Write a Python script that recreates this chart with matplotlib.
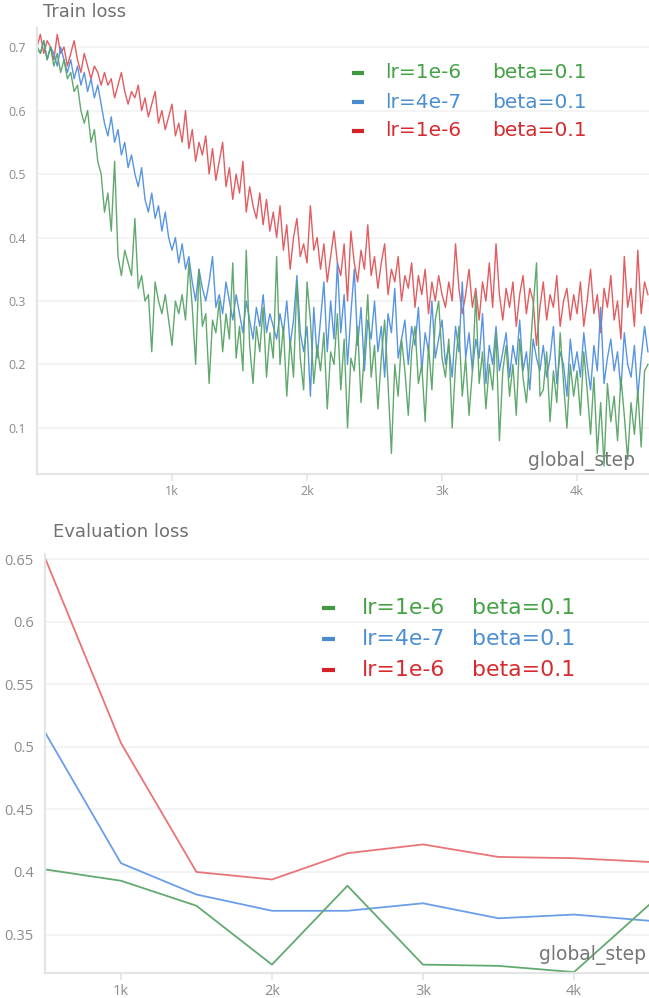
import numpy as np
import matplotlib
matplotlib.use("Agg")
import matplotlib.pyplot as plt
from matplotlib.lines import Line2D

plt.rcParams['font.family'] = ['Open Sans', 'DejaVu Sans']

# ---------------- data ----------------
train_steps = np.arange(0, 4526, 25)

train_green = [
    0.70, 0.69, 0.71, 0.68, 0.70, 0.67, 0.69, 0.66, 0.68, 0.65,
    0.66, 0.63, 0.64, 0.60, 0.58, 0.60, 0.55, 0.57, 0.52, 0.50,
    0.44, 0.47, 0.41, 0.52, 0.37, 0.34, 0.38, 0.36, 0.34, 0.43,
    0.32, 0.34, 0.30, 0.31, 0.22, 0.33, 0.30, 0.28, 0.31, 0.27,
    0.23, 0.30, 0.28, 0.31, 0.27, 0.36, 0.29, 0.20, 0.35, 0.26,
    0.28, 0.17, 0.27, 0.25, 0.30, 0.22, 0.28, 0.24, 0.36, 0.21,
    0.26, 0.19, 0.38, 0.23, 0.17, 0.26, 0.22, 0.29, 0.18, 0.25,
    0.21, 0.37, 0.20, 0.26, 0.15, 0.24, 0.18, 0.33, 0.21, 0.16,
    0.33, 0.27, 0.17, 0.23, 0.19, 0.25, 0.13, 0.22, 0.20, 0.28,
    0.16, 0.24, 0.10, 0.21, 0.19, 0.26, 0.14, 0.22, 0.31, 0.18,
    0.23, 0.13, 0.21, 0.27, 0.17, 0.06, 0.20, 0.15, 0.24, 0.19,
    0.12, 0.22, 0.26, 0.17, 0.20, 0.11, 0.23, 0.16, 0.27, 0.30,
    0.21, 0.18, 0.24, 0.10, 0.20, 0.26, 0.15, 0.21, 0.12, 0.19,
    0.31, 0.17, 0.22, 0.13, 0.20, 0.16, 0.25, 0.08, 0.19, 0.23,
    0.15, 0.20, 0.12, 0.24, 0.18, 0.14, 0.21, 0.29, 0.36, 0.15,
    0.16, 0.22, 0.11, 0.19, 0.14, 0.25, 0.17, 0.10, 0.20, 0.15,
    0.19, 0.12, 0.22, 0.16, 0.09, 0.18, 0.06, 0.14, 0.04, 0.17,
    0.11, 0.15, 0.08, 0.18, 0.12, 0.05, 0.14, 0.09, 0.16, 0.07, 0.19, 0.20,
]

train_blue = [
    0.70, 0.69, 0.71, 0.68, 0.70, 0.69, 0.67, 0.70, 0.68, 0.66,
    0.68, 0.65, 0.67, 0.64, 0.66, 0.63, 0.65, 0.62, 0.64, 0.61,
    0.58, 0.56, 0.59, 0.55, 0.57, 0.53, 0.55, 0.51, 0.53, 0.50,
    0.48, 0.51, 0.46, 0.44, 0.47, 0.43, 0.45, 0.41, 0.44, 0.40,
    0.38, 0.40, 0.36, 0.39, 0.35, 0.37, 0.33, 0.30, 0.35, 0.32,
    0.30, 0.33, 0.37, 0.29, 0.31, 0.28, 0.33, 0.30, 0.27, 0.31,
    0.28, 0.25, 0.30, 0.27, 0.24, 0.29, 0.26, 0.31, 0.25, 0.28,
    0.26, 0.24, 0.28, 0.25, 0.30, 0.23, 0.27, 0.34, 0.25, 0.22,
    0.26, 0.15, 0.29, 0.21, 0.27, 0.33, 0.22, 0.30, 0.24, 0.36,
    0.25, 0.31, 0.20, 0.28, 0.35, 0.23, 0.29, 0.19, 0.27, 0.24,
    0.30, 0.22, 0.26, 0.18, 0.28, 0.25, 0.32, 0.21, 0.24, 0.27,
    0.20, 0.26, 0.23, 0.29, 0.19, 0.25, 0.22, 0.30, 0.21, 0.24,
    0.27, 0.20, 0.23, 0.18, 0.26, 0.22, 0.33, 0.21, 0.25, 0.19,
    0.24, 0.21, 0.28, 0.17, 0.23, 0.20, 0.26, 0.19, 0.22, 0.25,
    0.18, 0.23, 0.20, 0.27, 0.19, 0.22, 0.16, 0.24, 0.21, 0.19,
    0.23, 0.18, 0.21, 0.26, 0.17, 0.22, 0.20, 0.15, 0.24, 0.19,
    0.22, 0.18, 0.25, 0.20, 0.16, 0.23, 0.19, 0.29, 0.17, 0.21,
    0.24, 0.19, 0.22, 0.16, 0.25, 0.20, 0.18, 0.23, 0.15, 0.21, 0.26, 0.22,
]

train_red = [
    0.70, 0.72, 0.69, 0.71, 0.70, 0.68, 0.72, 0.69, 0.70, 0.67,
    0.69, 0.71, 0.68, 0.66, 0.69, 0.67, 0.65, 0.67, 0.66, 0.64,
    0.66, 0.64, 0.65, 0.62, 0.64, 0.66, 0.63, 0.61, 0.63, 0.62,
    0.64, 0.60, 0.62, 0.59, 0.61, 0.63, 0.58, 0.60, 0.57, 0.59,
    0.61, 0.56, 0.58, 0.55, 0.60, 0.54, 0.57, 0.52, 0.55, 0.53,
    0.56, 0.50, 0.54, 0.49, 0.52, 0.55, 0.48, 0.51, 0.46, 0.50,
    0.47, 0.52, 0.44, 0.48, 0.45, 0.43, 0.47, 0.42, 0.46, 0.41,
    0.44, 0.40, 0.45, 0.38, 0.42, 0.35, 0.40, 0.43, 0.37, 0.39,
    0.36, 0.45, 0.38, 0.40, 0.35, 0.39, 0.33, 0.37, 0.41, 0.36,
    0.34, 0.39, 0.30, 0.41, 0.36, 0.33, 0.38, 0.35, 0.42, 0.34,
    0.37, 0.32, 0.36, 0.39, 0.31, 0.35, 0.33, 0.37, 0.30, 0.34,
    0.32, 0.36, 0.29, 0.34, 0.31, 0.35, 0.28, 0.33, 0.30, 0.34,
    0.31, 0.29, 0.33, 0.30, 0.39, 0.32, 0.28, 0.31, 0.35, 0.29,
    0.32, 0.27, 0.33, 0.30, 0.36, 0.29, 0.39, 0.31, 0.27, 0.32,
    0.29, 0.33, 0.26, 0.31, 0.34, 0.28, 0.32, 0.30, 0.23, 0.29,
    0.33, 0.27, 0.31, 0.29, 0.34, 0.26, 0.30, 0.32, 0.27, 0.31,
    0.28, 0.33, 0.26, 0.30, 0.35, 0.28, 0.31, 0.25, 0.32, 0.29,
    0.34, 0.27, 0.30, 0.24, 0.37, 0.29, 0.32, 0.26, 0.38, 0.28, 0.33, 0.31,
]

eval_steps = [500, 1000, 1500, 2000, 2500, 3000, 3500, 4000, 4500]
eval_green = [0.402, 0.393, 0.373, 0.326, 0.389, 0.326, 0.325, 0.320, 0.374]
eval_blue = [0.511, 0.407, 0.382, 0.369, 0.369, 0.375, 0.363, 0.366, 0.361]
eval_red = [0.650, 0.503, 0.400, 0.394, 0.415, 0.422, 0.412, 0.411, 0.408]

series_lr = ["lr=1e-6", "lr=4e-7", "lr=1e-6"]
series_beta = ["beta=0.1", "beta=0.1", "beta=0.1"]

x_ticks = [1000, 2000, 3000, 4000]
x_ticklabels = ["1k", "2k", "3k", "4k"]
train_yticks = [0.1, 0.2, 0.3, 0.4, 0.5, 0.6, 0.7]
train_yticklabels = ["0.1", "0.2", "0.3", "0.4", "0.5", "0.6", "0.7"]
eval_yticks = [0.35, 0.4, 0.45, 0.5, 0.55, 0.6, 0.65]
eval_yticklabels = ["0.35", "0.4", "0.45", "0.5", "0.55", "0.6", "0.65"]

# ---------------- style ----------------
W, H = 649, 998
line_colors = ["#58a466", "#4f8fe0", "#e05458"]
eval_colors = ["#62aa70", "#6a9ee8", "#e87478"]
text_colors = ["#44a244", "#4b8fd2", "#d62a2e"]
dash_colors = ["#3f9a3f", "#4a8bd0", "#d42226"]
tick_color = "#8c8c8c"
spine_color = "#e4e4e4"
grid_color = "#f2f2f2"
wide_font = ['DejaVu Sans']

fig = plt.figure(figsize=(W / 100, H / 100), dpi=100)
fig.patch.set_facecolor("white")


def fig_box(l, t, r, b):
    return [l / W, 1 - b / H, (r - l) / W, (b - t) / H]


ax1 = fig.add_axes(fig_box(37, 28, 649, 474))
ax2 = fig.add_axes(fig_box(45, 554, 649, 973))


def style_axes(ax, yticks, yticklabels, tick_fs):
    for s in ["top", "right"]:
        ax.spines[s].set_visible(False)
    for s in ["left", "bottom"]:
        ax.spines[s].set_color(spine_color)
        ax.spines[s].set_linewidth(1.6)
    ax.set_yticks(yticks)
    ax.set_yticklabels(yticklabels)
    ax.set_xticks(x_ticks)
    ax.set_xticklabels(x_ticklabels)
    ax.tick_params(axis="y", length=0, pad=8, colors=tick_color, labelsize=tick_fs)
    ax.tick_params(axis="x", length=5, width=1.2, pad=3,
                   colors=tick_color, labelsize=tick_fs)
    ax.tick_params(axis="x", color=spine_color)
    ax.grid(axis="y", color=grid_color, linewidth=1.2)
    ax.set_axisbelow(True)


# Train loss panel
for vals, c in [(train_red, line_colors[2]), (train_blue, line_colors[1]), (train_green, line_colors[0])]:
    ax1.plot(train_steps, vals, color=c, linewidth=1.0, alpha=0.95)
ax1.set_xlim(0, 4533)
ax1.set_ylim(0.0275, 0.730)
style_axes(ax1, train_yticks, train_yticklabels, 9)

# Evaluation loss panel
for vals, c in [(eval_red, eval_colors[2]), (eval_blue, eval_colors[1]), (eval_green, eval_colors[0])]:
    ax2.plot(eval_steps, vals, color=c, linewidth=1.3)
ax2.set_xlim(497, 4497)
ax2.set_ylim(0.3193, 0.654)
style_axes(ax2, eval_yticks, eval_yticklabels, 10.5)

# axis name labels inside the plots
fig.text(635 / W, 1 - 461 / H, "global_step", fontsize=13.5, color="#777777", ha="right", va="center",
         family=wide_font)
fig.text(646 / W, 1 - 955 / H, "global_step", fontsize=13.5, color="#777777", ha="right", va="center",
         family=wide_font)

# titles
fig.text(43 / W, 1 - 12 / H, "Train loss", fontsize=12.9, color="#707070", va="center", ha="left",
         family=wide_font)
fig.text(53 / W, 1 - 532 / H, "Evaluation loss", fontsize=13, color="#707070", va="center", ha="left",
         family=wide_font)


# legends
def draw_legend(dash_x0, dash_x1, lr_x, beta_x, rows_y, fs):
    for i in range(3):
        y = 1 - rows_y[i] / H
        fig.add_artist(Line2D([dash_x0 / W, dash_x1 / W], [y, y], transform=fig.transFigure,
                              color=dash_colors[i], linewidth=3, solid_capstyle="butt"))
        fig.text(lr_x / W, y, series_lr[i], fontsize=fs, color=text_colors[i], va="center", ha="left",
                 family=wide_font)
        fig.text(beta_x / W, y, series_beta[i], fontsize=fs, color=text_colors[i], va="center", ha="left",
                 family=wide_font)


draw_legend(352, 364, 385, 492, [73, 102, 131], 14.5)
draw_legend(322, 335, 362, 472, [608, 639, 670], 15.8)

fig.savefig("out.png", dpi=100, facecolor="white")
